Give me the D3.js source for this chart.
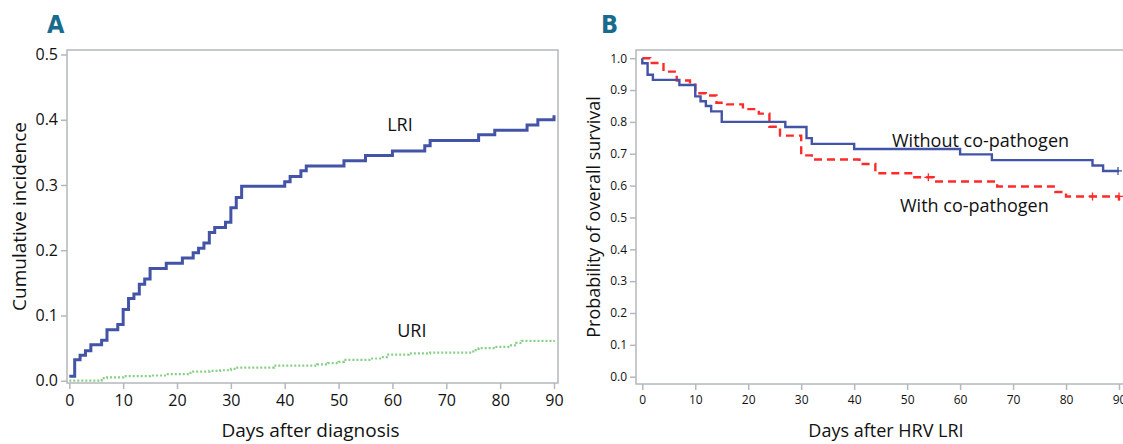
<!DOCTYPE html>
<html>
<head>
<meta charset="utf-8">
<script src="https://cdn.jsdelivr.net/npm/d3@7"></script>
<style>
  body { margin: 0; background: #fff; }
  text { font-family: "Open Sans", "Noto Sans", sans-serif; fill: #111; }
  .panel-label { font-family: "DejaVu Sans Condensed", "Roboto", sans-serif; font-weight: bold; fill: #176b8c; }
</style>
</head>
<body>
<svg id="chart" width="1123" height="444"></svg>
<script>
// Panel A: cumulative incidence (step curves)
const lriDays = [0, 1, 2, 3, 4, 6, 7, 9, 10, 11, 12, 13, 14, 15, 18, 21, 23, 24, 25, 26, 27, 29, 30, 31, 32, 40, 41, 43, 44, 51, 55, 60, 66, 67, 76, 79, 85, 87, 90];
const lriVals = [0.007, 0.032, 0.039, 0.046, 0.055, 0.062, 0.078, 0.086, 0.109, 0.126, 0.133, 0.148, 0.156, 0.172, 0.180, 0.188, 0.196, 0.203, 0.211, 0.227, 0.235, 0.243, 0.265, 0.281, 0.298, 0.305, 0.313, 0.322, 0.329, 0.337, 0.345, 0.352, 0.360, 0.368, 0.377, 0.384, 0.392, 0.400, 0.407];

const uriDays = [0, 6, 7, 10, 15, 18, 22, 23, 26, 28, 30, 31, 38, 46, 48, 50, 51, 56, 58, 59, 63, 67, 75, 76, 79, 82, 83, 84, 90];
const uriVals = [0.000, 0.004, 0.005, 0.007, 0.008, 0.010, 0.012, 0.014, 0.015, 0.016, 0.018, 0.020, 0.023, 0.025, 0.027, 0.029, 0.032, 0.034, 0.036, 0.040, 0.042, 0.043, 0.047, 0.050, 0.052, 0.054, 0.058, 0.061, 0.062];

// Panel B: overall survival
const withoutDays = [0, 0, 1, 2, 7, 10, 11, 12, 13, 15, 27, 31, 32, 40, 60, 66, 85, 87, 90];
const withoutVals = [1.0, 0.984, 0.948, 0.932, 0.916, 0.880, 0.865, 0.850, 0.833, 0.800, 0.784, 0.749, 0.731, 0.715, 0.698, 0.680, 0.663, 0.646, 0.646];
const withoutCensor = [90];

const withDays = [0, 1.5, 4, 6.5, 9, 10, 12, 14, 16, 19, 22, 24, 26, 30, 32, 41, 44, 51, 55, 67, 78, 80, 90];
const withVals = [1.0, 0.985, 0.958, 0.930, 0.917, 0.890, 0.883, 0.860, 0.855, 0.840, 0.826, 0.785, 0.757, 0.695, 0.682, 0.668, 0.639, 0.626, 0.613, 0.597, 0.580, 0.566, 0.553];
const withCensor = [54, 85, 90];

const xTicks = [0, 10, 20, 30, 40, 50, 60, 70, 80, 90];
const yTicksA = [0, 0.1, 0.2, 0.3, 0.4, 0.5];
const yTicksB = [0, 0.1, 0.2, 0.3, 0.4, 0.5, 0.6, 0.7, 0.8, 0.9, 1.0];

const svg = d3.select("#chart");
const axisColor = "#b4b8bc";

function zip(days, vals) {
  return days.map(function(d, i) { return [d, vals[i]]; });
}

function panel(opts) {
  const g = svg.append("g");
  const x = d3.scaleLinear().domain([0, 90]).range(opts.xRange);
  const y = d3.scaleLinear().domain(opts.yDomain).range(opts.yRange);

  // frame
  g.append("rect")
    .attr("x", opts.box[0]).attr("y", opts.box[1])
    .attr("width", opts.box[2] - opts.box[0]).attr("height", opts.box[3] - opts.box[1])
    .attr("fill", "none").attr("stroke", axisColor).attr("stroke-width", 1.5);

  // x axis
  const xa = g.append("g")
    .attr("transform", "translate(0," + opts.box[3] + ")")
    .call(d3.axisBottom(x).tickValues(xTicks).tickSize(opts.tick).tickPadding(opts.xPad).tickSizeOuter(0));
  xa.select(".domain").remove();
  xa.selectAll("line").attr("stroke", axisColor).attr("stroke-width", 1.5);
  xa.selectAll("text").attr("font-size", opts.tickFont).attr("fill", "#111")
    .attr("font-family", "'Open Sans', 'Noto Sans', sans-serif");

  // y axis
  const ya = g.append("g")
    .attr("transform", "translate(" + opts.box[0] + ",0)")
    .call(d3.axisLeft(y).tickValues(opts.yTicks).tickFormat(d3.format(".1f")).tickSize(opts.tick).tickPadding(opts.yPad).tickSizeOuter(0));
  ya.select(".domain").remove();
  ya.selectAll("line").attr("stroke", axisColor).attr("stroke-width", 1.5);
  ya.selectAll("text").attr("font-size", opts.tickFont).attr("fill", "#111")
    .attr("font-family", "'Open Sans', 'Noto Sans', sans-serif");

  // titles
  g.append("text")
    .attr("x", (opts.box[0] + opts.box[2]) / 2 + opts.xTitleShift).attr("y", 437)
    .attr("text-anchor", "middle").attr("font-size", opts.titleFont)
    .text(opts.xTitle);
  g.append("text")
    .attr("transform", "translate(" + opts.yTitleX + "," + ((opts.box[1] + opts.box[3]) / 2) + ") rotate(-90)")
    .attr("text-anchor", "middle").attr("font-size", opts.titleFont)
    .text(opts.yTitle);

  g.append("text").attr("class", "panel-label")
    .attr("x", opts.labelX).attr("y", 33).attr("font-size", 25)
    .text(opts.label);

  const line = d3.line()
    .x(function(d) { return x(d[0]); })
    .y(function(d) { return y(d[1]); })
    .curve(d3.curveStepAfter);

  return { g: g, x: x, y: y, line: line };
}

// ---- Panel A
const A = panel({
  xRange: [69.3, 554], yDomain: [0, 0.5], yRange: [380.7, 54.5],
  box: [67, 50, 558, 383], yTicks: yTicksA, tick: 6, xPad: 6, yPad: 3,
  tickFont: 16, titleFont: 19, xTitle: "Days after diagnosis", xTitleShift: -2,
  yTitle: "Cumulative incidence", yTitleX: 26, label: "A", labelX: 47
});

A.g.append("path").datum(zip(uriDays, uriVals))
  .attr("d", A.line).attr("fill", "none")
  .attr("stroke", "#86cf86").attr("stroke-width", 2.2).attr("stroke-dasharray", "2,2");

A.g.append("path").datum(zip(lriDays, lriVals))
  .attr("d", A.line).attr("fill", "none")
  .attr("stroke", "#4353a6").attr("stroke-width", 3);

A.g.append("text").attr("x", A.x(61.4)).attr("y", A.y(0.383))
  .attr("text-anchor", "middle").attr("font-size", 18).text("LRI");
A.g.append("text").attr("x", A.x(63.6)).attr("y", A.y(0.067))
  .attr("text-anchor", "middle").attr("font-size", 18).text("URI");

// ---- Panel B
const B = panel({
  xRange: [642.3, 1119], yDomain: [0, 1], yRange: [376.7, 58.2],
  box: [636, 50, 1126, 384], yTicks: yTicksB, tick: 6, xPad: 5, yPad: 3,
  tickFont: 12, titleFont: 18, xTitle: "Days after HRV LRI", xTitleShift: 5,
  yTitle: "Probability of overall survival", yTitleX: 600, label: "B", labelX: 601
});

B.g.append("path").datum(zip(withDays, withVals))
  .attr("d", B.line).attr("fill", "none")
  .attr("stroke", "#ff2a2a").attr("stroke-width", 2.4).attr("stroke-dasharray", "8,5");

B.g.append("path").datum(zip(withoutDays, withoutVals))
  .attr("d", B.line).attr("fill", "none")
  .attr("stroke", "#4353a6").attr("stroke-width", 2.4);

function censorValue(days, vals, t) {
  let v = vals[0];
  days.forEach(function(d, i) { if (d < t) v = vals[i]; });
  return v;
}

B.g.selectAll(".cw").data(withCensor).enter().append("path")
  .attr("d", function(t) {
    const cx = B.x(t), cy = B.y(censorValue(withDays, withVals, t));
    return "M" + (cx - 4) + "," + cy + "h8M" + cx + "," + (cy - 4) + "v8";
  })
  .attr("stroke", "#ff2a2a").attr("stroke-width", 1.3);

B.g.selectAll(".cwo").data(withoutCensor).enter().append("path")
  .attr("d", function(t) {
    const cx = B.x(t) - 1, cy = B.y(censorValue(withoutDays, withoutVals, t));
    return "M" + (cx - 4) + "," + cy + "h8M" + cx + "," + (cy - 4) + "v8";
  })
  .attr("stroke", "#4353a6").attr("stroke-width", 1.3);

B.g.append("text").attr("x", 892).attr("y", 147)
  .attr("font-size", 18).text("Without co-pathogen");
B.g.append("text").attr("x", 900).attr("y", 212)
  .attr("font-size", 18).text("With co-pathogen");
</script>
</body>
</html>
